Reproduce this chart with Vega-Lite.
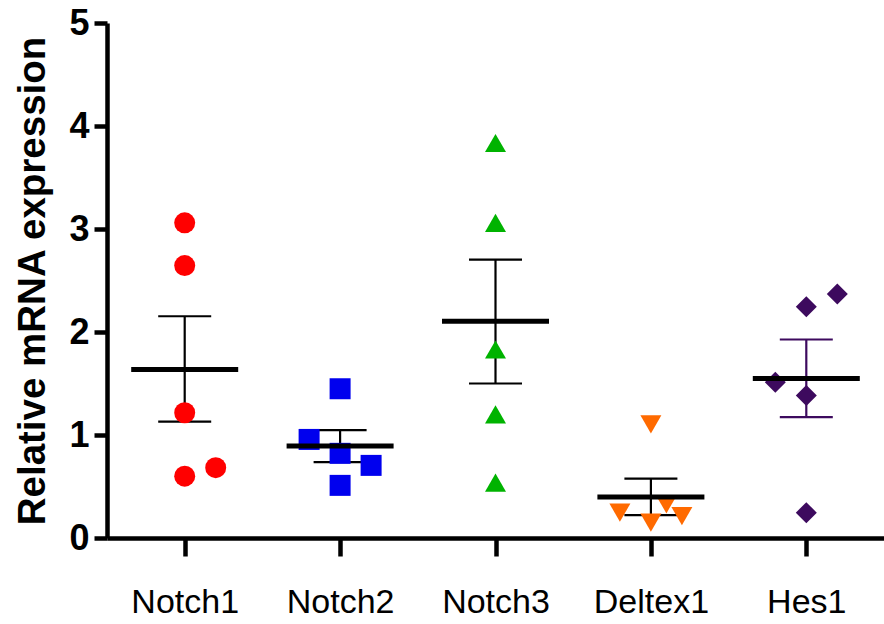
{
  "$schema": "https://vega.github.io/schema/vega-lite/v6.json",
  "autosize": "none",
  "width": 777,
  "height": 515,
  "padding": {"left": 107, "top": 23, "right": 0, "bottom": 86},
  "background": "white",
  "config": {"view": {"stroke": null}, "font": "Liberation Sans"},
  "datasets": {
    "points": [
      {"gene": "Notch1", "value": 3.06, "offset": 0},
      {"gene": "Notch1", "value": 2.645, "offset": 0},
      {"gene": "Notch1", "value": 1.216, "offset": 0},
      {"gene": "Notch1", "value": 0.6, "offset": 0},
      {"gene": "Notch1", "value": 0.683, "offset": 1},
      {"gene": "Notch2", "value": 1.449, "offset": 0},
      {"gene": "Notch2", "value": 0.957, "offset": -1},
      {"gene": "Notch2", "value": 0.822, "offset": 0},
      {"gene": "Notch2", "value": 0.705, "offset": 1},
      {"gene": "Notch2", "value": 0.511, "offset": 0},
      {"gene": "Notch3", "value": 3.835, "offset": 0},
      {"gene": "Notch3", "value": 3.059, "offset": 0},
      {"gene": "Notch3", "value": 1.83, "offset": 0},
      {"gene": "Notch3", "value": 1.2, "offset": 0},
      {"gene": "Notch3", "value": 0.537, "offset": 0},
      {"gene": "Deltex1", "value": 1.103, "offset": 0},
      {"gene": "Deltex1", "value": 0.246, "offset": -1},
      {"gene": "Deltex1", "value": 0.149, "offset": 0},
      {"gene": "Deltex1", "value": 0.327, "offset": 0.5},
      {"gene": "Deltex1", "value": 0.213, "offset": 1},
      {"gene": "Hes1", "value": 2.244, "offset": 0},
      {"gene": "Hes1", "value": 2.37, "offset": 1},
      {"gene": "Hes1", "value": 1.513, "offset": -1},
      {"gene": "Hes1", "value": 1.384, "offset": 0},
      {"gene": "Hes1", "value": 0.246, "offset": 0}
    ],
    "summary": [
      {"gene": "Notch1", "mean": 1.636, "lo": 1.129, "hi": 2.153},
      {"gene": "Notch2", "mean": 0.892, "lo": 0.737, "hi": 1.048},
      {"gene": "Notch3", "mean": 2.105, "lo": 1.5, "hi": 2.703},
      {"gene": "Deltex1", "mean": 0.398, "lo": 0.223, "hi": 0.576},
      {"gene": "Hes1", "mean": 1.549, "lo": 1.174, "hi": 1.927}
    ]
  },
  "encoding": {
    "x": {
      "field": "gene",
      "type": "nominal",
      "sort": ["Notch1", "Notch2", "Notch3", "Deltex1", "Hes1"],
      "scale": {"type": "point", "padding": 0.5},
      "axis": {
        "title": null,
        "labelAngle": 0,
        "labelFont": "Liberation Sans",
        "labelFontSize": 34,
        "labelColor": "black",
        "labelPadding": 29,
        "domainColor": "black",
        "domainWidth": 4.5,
        "tickColor": "black",
        "tickWidth": 4.5,
        "tickSize": 18,
        "grid": false
      }
    }
  },
  "layer": [
    {
      "data": {"name": "summary"},
      "mark": {"type": "rule", "strokeWidth": 2.2, "opacity": 1},
      "encoding": {
        "y": {
          "field": "lo",
          "type": "quantitative",
          "scale": {"domain": [0, 5], "nice": false},
          "axis": {
            "title": "Relative mRNA expression",
            "titleFont": "Liberation Sans",
            "titleFontSize": 38.5,
            "titleFontWeight": "bold",
            "titleColor": "black",
            "titlePadding": 16,
            "values": [0, 1, 2, 3, 4, 5],
            "format": "d",
            "labelFont": "Liberation Sans",
            "labelFontSize": 36,
            "labelFontWeight": "bold",
            "labelColor": "black",
            "labelPadding": 5,
            "domainColor": "black",
            "domainWidth": 4.5,
            "tickColor": "black",
            "tickWidth": 4.5,
            "tickSize": 13,
            "grid": false
          }
        },
        "y2": {"field": "hi"},
        "color": {"condition": {"test": "datum.gene === 'Hes1'", "value": "#3d0a5e"}, "value": "black"}
      }
    },
    {
      "data": {"name": "summary"},
      "mark": {"type": "tick", "orient": "horizontal", "thickness": 2.2, "size": 53, "opacity": 1},
      "encoding": {
        "y": {"field": "lo", "type": "quantitative"},
        "color": {"condition": {"test": "datum.gene === 'Hes1'", "value": "#3d0a5e"}, "value": "black"}
      }
    },
    {
      "data": {"name": "summary"},
      "mark": {"type": "tick", "orient": "horizontal", "thickness": 2.2, "size": 53, "opacity": 1},
      "encoding": {
        "y": {"field": "hi", "type": "quantitative"},
        "color": {"condition": {"test": "datum.gene === 'Hes1'", "value": "#3d0a5e"}, "value": "black"}
      }
    },
    {
      "data": {"name": "points"},
      "mark": {"type": "point", "filled": true, "opacity": 1, "strokeWidth": 0},
      "encoding": {
        "xOffset": {"field": "offset", "type": "quantitative", "scale": {"domain": [-1, 1], "range": [-31, 31]}},
        "y": {"field": "value", "type": "quantitative"},
        "shape": {
          "field": "gene",
          "type": "nominal",
          "scale": {"domain": ["Notch1", "Notch2", "Notch3", "Deltex1", "Hes1"], "range": ["circle", "square", "triangle-up", "triangle-down", "diamond"]},
          "legend": null
        },
        "size": {
          "field": "gene",
          "type": "nominal",
          "scale": {"domain": ["Notch1", "Notch2", "Notch3", "Deltex1", "Hes1"], "range": [441, 441, 520, 520, 640]},
          "legend": null
        },
        "color": {
          "field": "gene",
          "type": "nominal",
          "scale": {"domain": ["Notch1", "Notch2", "Notch3", "Deltex1", "Hes1"], "range": ["#ff0000", "#0000ee", "#00b300", "#ff6a00", "#3d0a5e"]},
          "legend": null
        }
      }
    },
    {
      "data": {"name": "summary"},
      "mark": {"type": "tick", "orient": "horizontal", "thickness": 5, "size": 107, "color": "black", "opacity": 1},
      "encoding": {
        "y": {"field": "mean", "type": "quantitative"}
      }
    }
  ]
}
